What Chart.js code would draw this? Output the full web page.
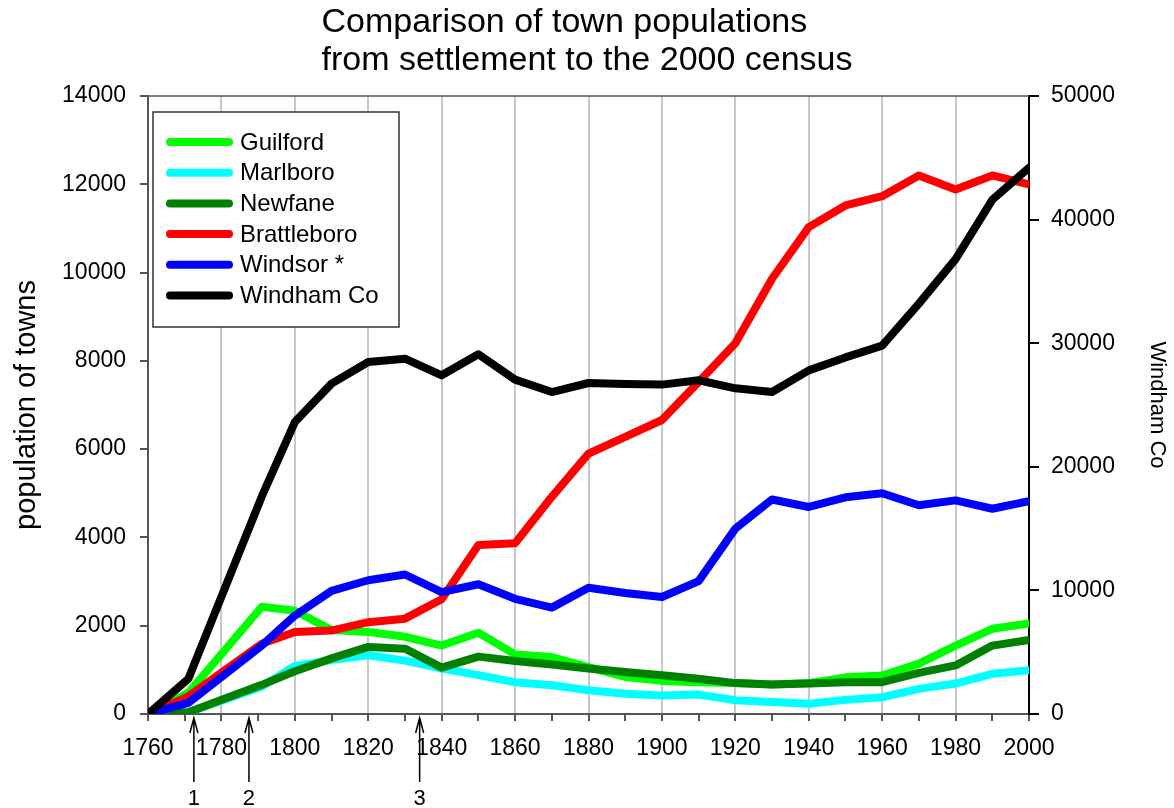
<!DOCTYPE html>
<html>
<head>
<meta charset="utf-8">
<script src="https://cdn.jsdelivr.net/npm/chart.js@4.4.0/dist/chart.umd.min.js"></script>
<style>
  body { margin: 0; background: #fff; }
  canvas { display: block; }
</style>
</head>
<body>
<canvas id="popChart" width="1174" height="808"></canvas>
<script>
// census years (1771 NY census, 1791 first VT census, then every 10 years)
const years = [1760, 1771, 1791, 1800, 1810, 1820, 1830, 1840, 1850, 1860, 1870, 1880,
  1890, 1900, 1910, 1920, 1930, 1940, 1950, 1960, 1970, 1980, 1990, 2000];

// town populations (left axis)
const guilford = [0, 480, 2430, 2340, 1900, 1860, 1750, 1550, 1840, 1350, 1290, 1060,
  840, 750, 720, 700, 670, 700, 830, 870, 1140, 1550, 1930, 2050];
const marlboro = [0, 40, 620, 1090, 1220, 1330, 1210, 1030, 880, 720, 650, 540,
  460, 420, 440, 310, 270, 230, 320, 380, 570, 690, 910, 990];
const newfane = [0, 40, 660, 970, 1260, 1520, 1480, 1050, 1300, 1200, 1120, 1030,
  950, 880, 800, 700, 670, 690, 720, 720, 930, 1100, 1550, 1680];
const brattleboro = [0, 400, 1590, 1860, 1890, 2080, 2160, 2600, 3830, 3870, 4920, 5900,
  6280, 6660, 7520, 8400, 9860, 11030, 11520, 11730, 12200, 11880, 12200, 12000];
const windsor = [0, 250, 1550, 2230, 2790, 3030, 3160, 2760, 2940, 2610, 2410, 2860,
  2740, 2650, 3010, 4200, 4860, 4690, 4910, 5000, 4730, 4840, 4650, 4820];

// county population (right axis)
const windhamCo = [0, 2850, 17600, 23620, 26730, 28480, 28750, 27400, 29100, 27050, 26050, 26780,
  26700, 26650, 27000, 26350, 26050, 27800, 28850, 29800, 33200, 36800, 41600, 44200];

// arrows below the x axis
const markerYears = [1772.5, 1787.5, 1834];
const markerLabels = ["1", "2", "3"];

const titleLines = ["Comparison of town populations", "from settlement to the 2000 census"];

const FONT = "'Liberation Sans', Arial, sans-serif";

function series(vals) {
  return years.map((yr, i) => ({ x: yr, y: vals[i] }));
}

function makeSet(label, color, vals, order, axis = "y") {
  return {
    label: label,
    data: series(vals),
    borderColor: color,
    backgroundColor: color,
    borderWidth: 8,
    pointRadius: 0,
    tension: 0,
    borderJoinStyle: "round",
    borderCapStyle: "round",
    yAxisID: axis,
    order: order,
  };
}

// title block: centred as a block, lines left aligned
const blockTitle = {
  id: "blockTitle",
  afterDraw(chart) {
    const { ctx } = chart;
    ctx.save();
    ctx.font = "34px " + FONT;
    ctx.fillStyle = "#000";
    ctx.textBaseline = "alphabetic";
    ctx.textAlign = "left";
    const w = Math.max(...titleLines.map((t) => ctx.measureText(t).width));
    const x0 = (chart.width - w) / 2;
    titleLines.forEach((t, i) => ctx.fillText(t, x0, 32 + i * 38));
    ctx.restore();
  },
};

// legend box drawn inside the plot
const boxLegend = {
  id: "boxLegend",
  afterDraw(chart) {
    const { ctx, chartArea } = chart;
    const x0 = chartArea.left + 5;
    const y0 = chartArea.top + 16;
    ctx.save();
    ctx.strokeStyle = "#333";
    ctx.lineWidth = 1.5;
    ctx.fillStyle = "#fff";
    ctx.fillRect(x0, y0, 246, 215);
    ctx.strokeRect(x0, y0, 246, 215);
    ctx.font = "24px " + FONT;
    ctx.textBaseline = "middle";
    chart.data.datasets.forEach((ds, i) => {
      const y = y0 + 30 + i * 30.7;
      ctx.strokeStyle = ds.borderColor;
      ctx.lineWidth = 8;
      ctx.lineCap = "round";
      ctx.beginPath();
      ctx.moveTo(x0 + 17, y);
      ctx.lineTo(x0 + 76, y);
      ctx.stroke();
      ctx.fillStyle = "#000";
      ctx.fillText(ds.label, x0 + 87, y + 1);
    });
    ctx.restore();
  },
};

// top frame line and arrows under the axis
const extras = {
  id: "extras",
  afterDraw(chart) {
    const { ctx, chartArea } = chart;
    const xs = chart.scales.x;
    ctx.save();
    ctx.strokeStyle = "#555";
    ctx.lineWidth = 1.5;
    ctx.beginPath();
    ctx.moveTo(chartArea.left, chartArea.top);
    ctx.lineTo(chartArea.right, chartArea.top);
    ctx.stroke();

    ctx.strokeStyle = "#000";
    ctx.fillStyle = "#000";
    ctx.lineWidth = 1.5;
    ctx.font = "22px " + FONT;
    ctx.textAlign = "center";
    ctx.textBaseline = "middle";
    markerYears.forEach((yr, i) => {
      const x = xs.getPixelForValue(yr);
      const top = chartArea.bottom + 4;
      ctx.beginPath();
      ctx.moveTo(x, top);
      ctx.lineTo(x, top + 64);
      ctx.moveTo(x - 4, top + 15);
      ctx.lineTo(x, top);
      ctx.lineTo(x + 4, top + 15);
      ctx.stroke();
      ctx.fillText(markerLabels[i], x, chartArea.bottom + 85);
    });
    ctx.restore();
  },
};

const chart = new Chart("popChart", {
  type: "line",
  data: {
    datasets: [
      makeSet("Guilford", "#00ff00", guilford, 5),
      makeSet("Marlboro", "#00ffff", marlboro, 4),
      makeSet("Newfane", "#008000", newfane, 3),
      makeSet("Brattleboro", "#ff0000", brattleboro, 2),
      makeSet("Windsor *", "#0000ff", windsor, 1),
      makeSet("Windham Co", "#000000", windhamCo, 0, "y2"),
    ],
  },
  options: {
    responsive: false,
    animation: false,
    layout: { padding: { top: 96, left: 0, right: 0, bottom: 0 } },
    plugins: {
      legend: { display: false },
      tooltip: { enabled: false },
      title: { display: false },
    },
    scales: {
      x: {
        type: "linear",
        min: 1760,
        max: 2000,
        afterFit: (s) => { s.height = 94; },
        ticks: {
          stepSize: 10,
          autoSkip: false,
          maxRotation: 0,
          padding: 14,
          color: "#000",
          font: { family: FONT, size: 23 },
          callback: (v) => (v % 20 === 0 ? String(v) : ""),
        },
        grid: {
          color: (c) => (c.tick && c.tick.value % 20 === 0 ? "#c8c8c8" : "rgba(0,0,0,0)"),
          tickColor: "#555",
          lineWidth: 2,
          tickLength: 7,
        },
        border: { color: "#555", width: 2 },
      },
      y: {
        position: "left",
        min: 0,
        max: 14000,
        afterFit: (s) => { s.width = 148; },
        ticks: {
          stepSize: 2000,
          padding: 14,
          color: "#000",
          font: { family: FONT, size: 23 },
          callback: (v) => String(v),
        },
        grid: { drawOnChartArea: false, tickLength: 8, tickColor: "#555", lineWidth: 2 },
        border: { color: "#555", width: 2 },
        title: {
          display: true,
          text: "population of towns",
          color: "#000",
          font: { family: FONT, size: 29 },
          padding: { top: 10, bottom: 0 },
        },
      },
      y2: {
        position: "right",
        min: 0,
        max: 50000,
        afterFit: (s) => { s.width = 145; },
        ticks: {
          stepSize: 10000,
          padding: 12,
          color: "#000",
          font: { family: FONT, size: 23 },
          callback: (v) => String(v),
        },
        grid: { drawOnChartArea: false, tickLength: 10, tickColor: "#000", lineWidth: 2 },
        border: { color: "#000", width: 2 },
        title: {
          display: true,
          text: "Windham Co",
          color: "#000",
          font: { family: FONT, size: 22 },
          padding: { top: 4, bottom: 0 },
        },
      },
    },
  },
  plugins: [blockTitle, boxLegend, extras],
});
</script>
</body>
</html>
